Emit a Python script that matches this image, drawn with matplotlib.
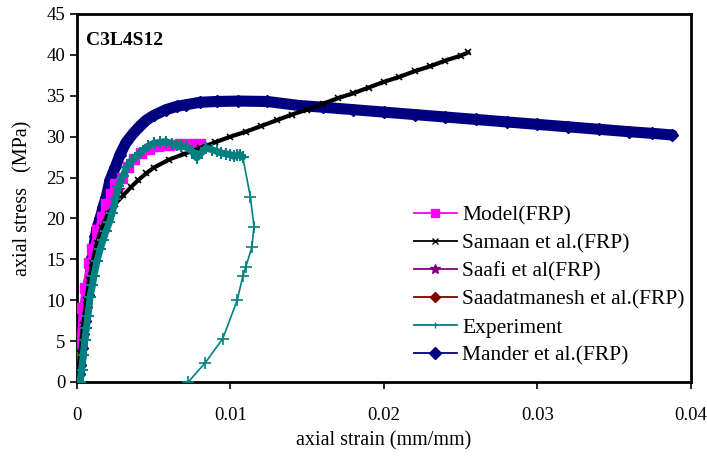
import matplotlib
matplotlib.use("Agg")
import matplotlib.pyplot as plt
from matplotlib.lines import Line2D

plt.rcParams['font.family'] = ['Liberation Serif', 'DejaVu Serif']

# ---- data (strain mm/mm, stress MPa) ----
model_x = [0, 0.0001, 0.0003, 0.0005, 0.0008, 0.0010, 0.0013, 0.0016, 0.0019, 0.0022, 0.0025,
           0.0029, 0.0033, 0.0037, 0.0042, 0.0047, 0.0053, 0.0060, 0.0067, 0.0074, 0.0080]
model_y = [0, 3.5, 9.0, 11.5, 14.5, 16.3, 18.6, 20.2, 21.8, 23.0, 24.2,
           25.0, 26.3, 27.3, 28.0, 28.5, 28.9, 29.0, 29.1, 29.1, 29.1]

samaan_x = [0, 0.0002, 0.0004, 0.0006, 0.0008, 0.0010, 0.0013, 0.0016, 0.0020, 0.0025, 0.0030,
            0.0035, 0.0040, 0.0045, 0.0050, 0.0060, 0.0070, 0.0080, 0.0090, 0.0100, 0.0110,
            0.0120, 0.0130, 0.0140, 0.0150, 0.0160, 0.0170, 0.0180, 0.0190, 0.0200, 0.0210,
            0.0220, 0.0230, 0.0240, 0.0250, 0.0255]
samaan_y = [0, 3.5, 7.0, 10.0, 12.5, 14.6, 17.0, 18.8, 20.5, 21.8, 22.8,
            23.8, 24.7, 25.5, 26.2, 27.2, 27.9, 28.6, 29.3, 30.0, 30.6,
            31.3, 32.0, 32.7, 33.3, 34.0, 34.7, 35.3, 36.0, 36.7, 37.3,
            38.0, 38.6, 39.3, 39.9, 40.3]

saafi_x = [0, 0.0002, 0.0004, 0.0007, 0.0010, 0.0013, 0.0016, 0.0019, 0.0022, 0.0025, 0.0028]
saafi_y = [0, 3.5, 7.0, 10.5, 13.5, 16.0, 18.2, 20.0, 21.5, 22.7, 23.6]

saadat_x = [0, 0.0002, 0.0004, 0.0007, 0.0010, 0.0013, 0.0016, 0.0019, 0.0022]
saadat_y = [0, 3.8, 7.4, 11.0, 14.0, 16.5, 18.6, 20.3, 21.6]

exp_x = [0.0002, 0.0003, 0.0004, 0.0005, 0.0006, 0.0007, 0.00085, 0.0010, 0.0011, 0.0013, 0.0015,
         0.0017, 0.0019, 0.0021, 0.0023, 0.0025, 0.0027, 0.0030, 0.00325, 0.0036, 0.0041,
         0.0046, 0.0050, 0.0054, 0.0058, 0.0062, 0.0065, 0.0068, 0.0071, 0.0075, 0.0078,
         0.0081, 0.0084, 0.0088, 0.0091, 0.0094, 0.0097, 0.0100, 0.0102, 0.0104, 0.0106,
         0.0108,
         0.0113, 0.01153, 0.0114, 0.0110, 0.0108, 0.01044, 0.0095, 0.00834, 0.00725]
exp_y = [0, 1.5, 3.3, 5.1, 6.6, 8.0, 10.4, 11.8, 13.0, 14.8, 16.2,
         17.4, 18.5, 19.5, 20.7, 22.4, 23.9, 25.2, 26.3, 27.2, 28.0,
         28.8, 29.2, 29.3, 29.4, 29.1, 29.0, 28.9, 28.8, 28.2, 27.4,
         28.0, 28.6, 28.4, 28.2, 28.0, 27.9, 27.8, 27.6, 27.7, 27.8,
         27.5,
         22.6, 19.0, 16.5, 14.1, 12.9, 10.0, 5.3, 2.3, 0.0]
exp_peak_end = 42  # number of points in the loading (dense) part

mander_x = [0, 0.0001, 0.0002, 0.0003, 0.0004, 0.0005, 0.0006, 0.0007, 0.0008, 0.0009, 0.0010,
            0.0011, 0.0012, 0.0013, 0.0015, 0.0017, 0.0019, 0.00215, 0.0025, 0.0028, 0.0032,
            0.00366, 0.0041, 0.0045, 0.0050, 0.0058, 0.0065, 0.0071, 0.0080, 0.0091, 0.0105,
            0.0124, 0.0145, 0.0160, 0.0180, 0.0200, 0.0220, 0.0240, 0.0260, 0.0280, 0.0300,
            0.0320, 0.0340, 0.0360, 0.0375, 0.0388]
mander_y = [0, 1.0, 2.1, 4.1, 5.8, 7.4, 9.2, 10.6, 12.2, 13.6, 15.3,
            16.6, 17.8, 18.8, 20.0, 21.4, 22.6, 24.7, 26.3, 27.8, 29.3,
            30.4, 31.3, 32.0, 32.6, 33.3, 33.7, 33.9, 34.2, 34.3, 34.35,
            34.3, 33.8, 33.6, 33.3, 33.0, 32.7, 32.4, 32.1, 31.8, 31.5,
            31.2, 30.9, 30.6, 30.4, 30.2]

x_ticks = [0, 0.01, 0.02, 0.03, 0.04]
x_ticklabels = ["0", "0.01", "0.02", "0.03", "0.04"]
y_ticks = [0, 5, 10, 15, 20, 25, 30, 35, 40, 45]

# ---- figure ----
fig = plt.figure(figsize=(7.07, 4.59), dpi=100)
ax = fig.add_axes([0.109, 0.168, 0.868, 0.8015])

navy = '#000080'
teal = '#008080'

# Mander (thick band of diamonds)
ax.plot(mander_x, mander_y, color=navy, lw=8, solid_capstyle='round', zorder=2)
ax.plot(mander_x, mander_y, color=navy, lw=0, marker='D', ms=6, zorder=2)

# Saadatmanesh and Saafi (mostly hidden)
ax.plot(saadat_x, saadat_y, color='#800000', lw=1.5, marker='D', ms=4, zorder=3)
ax.plot(saafi_x, saafi_y, color='#800080', lw=1.5, marker='*', ms=6, zorder=3)

# Model
ax.plot(model_x, model_y, color='#FF00FF', lw=4, marker='s', ms=7, zorder=3)

# Samaan
ax.plot(samaan_x, samaan_y, color='black', lw=3, marker='x', ms=5, mew=1.2, zorder=4)

# Experiment
ax.plot(exp_x[:exp_peak_end], exp_y[:exp_peak_end], color=teal, lw=5,
        solid_capstyle='round', zorder=5)
ax.plot(exp_x[:exp_peak_end], exp_y[:exp_peak_end], color=teal, lw=0,
        marker='+', ms=8, mew=1.5, zorder=5)
ax.plot(exp_x[exp_peak_end - 1:], exp_y[exp_peak_end - 1:], color=teal, lw=1.2,
        marker='+', ms=8, mew=1.2, zorder=5)

# legend
handles = [
    Line2D([], [], color='#FF00FF', lw=1.3, marker='s', ms=6),
    Line2D([], [], color='black', lw=1.3, marker='x', ms=4),
    Line2D([], [], color='#800080', lw=1.3, marker='*', ms=7),
    Line2D([], [], color='#800000', lw=1.3, marker='D', ms=5),
    Line2D([], [], color=teal, lw=1.3, marker='|', ms=5),
    Line2D([], [], color=navy, lw=1.3, marker='D', ms=6),
]
labels = ["Model(FRP)", "Samaan et al.(FRP)", "Saafi et al(FRP)",
          "Saadatmanesh et al.(FRP)", "Experiment", "Mander et al.(FRP)"]
ax.legend(handles, labels, loc='upper left', bbox_to_anchor=(0.524, 0.52),
          frameon=False, fontsize=15.5, handlelength=2.0, handletextpad=0.25,
          labelspacing=0.37, borderpad=0.2)

ax.set_xlim(0, 0.04)
ax.set_ylim(0, 45)
ax.set_xticks(x_ticks)
ax.set_xticklabels(x_ticklabels)
ax.set_yticks(y_ticks)
ax.tick_params(axis='both', direction='out', labelsize=13.5, width=1.2, length=5)
ax.tick_params(axis='x', pad=13)
for s in ax.spines.values():
    s.set_linewidth(2)

ax.set_xlabel("axial strain (mm/mm)", fontsize=14.5, labelpad=5)
ax.set_ylabel("axial stress   (MPa)", fontsize=14.5, labelpad=10)

ax.text(0.015, 0.929, "C3L4S12", transform=ax.transAxes, fontsize=14,
        fontweight='bold', va='center', ha='left')

fig.savefig("out.png", dpi=100)
